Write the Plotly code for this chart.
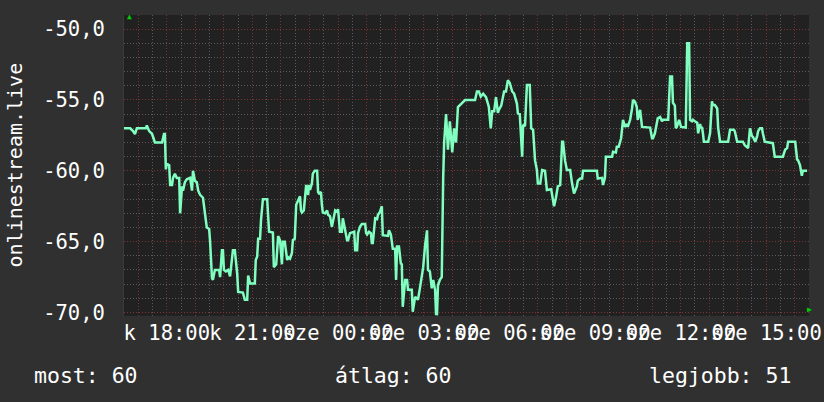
import pandas as pd
import plotly.graph_objects as go

# minutes after k 16:30, signal level (dB)
minutes = [
    0, 13, 19, 23, 27, 46, 48, 53, 59, 65, 80, 84, 86, 88, 90, 95, 97, 101, 103, 107,
    111, 116, 118, 122, 124, 128, 132, 139, 143, 145, 149, 153, 156, 160, 166, 170, 174, 179, 181, 185,
    187, 191, 200, 202, 206, 208, 210, 214, 219, 223, 227, 229, 233, 238, 240, 248, 250, 254, 259, 261,
    265, 275, 277, 280, 282, 286, 288, 292, 301, 303, 305, 313, 315, 320, 322, 324, 328, 332, 334, 338,
    343, 345, 349, 353, 355, 359, 362, 366, 370, 372, 374, 378, 383, 387, 389, 391, 395, 397, 401, 406,
    408, 410, 414, 416, 418, 423, 427, 429, 433, 437, 439, 444, 448, 450, 454, 458, 460, 465, 469, 471,
    475, 484, 486, 490, 492, 496, 500, 507, 509, 511, 515, 519, 521, 523, 526, 528, 532, 534, 538, 542,
    544, 555, 557, 561, 563, 565, 570, 572, 574, 578, 582, 584, 586, 591, 595, 597, 605, 607, 612, 618,
    622, 626, 629, 633, 637, 639, 643, 647, 650, 654, 656, 658, 660, 664, 668, 671, 673, 677, 681, 685,
    690, 694, 698, 702, 708, 717, 738, 742, 746, 750, 755, 761, 765, 767, 771, 774, 778, 782, 786, 788,
    793, 795, 799, 803, 807, 811, 816, 820, 826, 828, 832, 837, 839, 843, 847, 853, 856, 860, 864, 868,
    870, 875, 879, 885, 889, 898, 900, 904, 908, 910, 912, 917, 921, 923, 927, 931, 938, 942, 946, 952,
    954, 959, 963, 965, 994, 996, 1005, 1007, 1011, 1013, 1026, 1028, 1034, 1036, 1040, 1045, 1047, 1049, 1053, 1057,
    1059, 1064, 1068, 1070, 1074, 1078, 1080, 1085, 1089, 1106, 1110, 1112, 1116, 1120, 1122, 1127, 1131, 1133, 1144, 1148,
    1152, 1154, 1158, 1160, 1162, 1167, 1171, 1181, 1184, 1188, 1190, 1194, 1196, 1200, 1205, 1207, 1209, 1211, 1213, 1215,
    1217, 1219, 1228, 1232, 1236, 1238, 1242, 1247, 1249, 1253, 1270, 1274, 1282, 1284, 1289, 1301, 1305, 1310, 1312, 1316,
    1320, 1322, 1327, 1331, 1333, 1337, 1341, 1343, 1347, 1364, 1368, 1385, 1390, 1394, 1396, 1411, 1415, 1417, 1421, 1425,
    1427, 1436,
]
level = [
    -57.0, -57.0, -57.2, -57.4, -57.0, -57.0, -56.8, -57.2, -57.4, -58.0, -58.0, -57.4, -57.4, -59.9, -59.5, -59.6, -61.0, -61.0, -60.5, -60.2,
    -60.5, -60.5, -63.0, -61.1, -61.4, -60.8, -60.6, -60.5, -61.4, -60.0, -60.7, -60.8, -61.4, -61.7, -61.9, -63.2, -64.0, -64.1, -65.0, -67.6,
    -67.7, -67.0, -67.0, -67.5, -65.6, -65.6, -67.0, -67.1, -67.0, -67.45, -66.1, -65.6, -65.6, -67.3, -68.55, -68.55, -68.6, -69.1, -69.1, -67.4,
    -67.95, -67.95, -66.3, -66.05, -64.8, -64.8, -63.5, -62.0, -62.0, -63.2, -64.3, -64.35, -66.8, -66.6, -65.6, -64.6, -64.9, -66.6, -65.0, -65.0,
    -66.3, -66.1, -66.2, -65.8, -64.9, -64.8, -62.4, -62.1, -61.8, -62.8, -62.95, -62.8, -61.0, -61.7, -61.0, -61.35, -60.9, -60.2, -60.0, -60.0,
    -61.5, -61.6, -61.5, -62.4, -62.95, -63.0, -62.8, -63.1, -63.2, -63.95, -63.6, -62.8, -62.9, -62.7, -64.3, -64.3, -63.35, -64.3, -64.9, -64.9,
    -64.4, -64.3, -65.6, -65.6, -64.4, -63.95, -63.75, -63.75, -64.4, -64.5, -64.3, -64.4, -65.1, -65.1, -63.75, -63.35, -63.4, -63.1, -62.9, -62.5,
    -64.55, -64.6, -64.2, -64.5, -65.0, -65.5, -65.5, -67.7, -65.35, -65.35, -66.55, -66.6, -69.6, -67.7, -67.7, -68.4, -68.4, -69.95, -68.9, -69.1,
    -68.3, -67.4, -66.8, -65.25, -64.2, -67.0, -67.1, -68.3, -67.7, -68.4, -70.1, -70.1, -68.1, -67.7, -67.5, -60.5, -58.0, -56.0, -58.5, -56.5,
    -58.7, -57.0, -58.0, -55.5, -55.3, -55.0, -55.0, -54.4, -54.4, -54.75, -54.55, -54.8, -55.25, -55.5, -57.0, -55.8, -55.8, -54.8, -55.9, -55.7,
    -55.4, -55.0, -54.4, -54.4, -53.6, -53.8, -54.4, -54.55, -55.25, -55.95, -56.0, -59.0, -56.75, -56.85, -53.95, -53.95, -57.0, -57.1, -59.25, -59.95,
    -60.9, -60.9, -59.95, -60.0, -61.35, -61.3, -61.8, -62.5, -61.9, -61.35, -61.1, -61.0, -57.95, -57.95, -59.25, -59.95, -59.95, -60.9, -61.6, -61.1,
    -60.7, -60.55, -60.55, -60.0, -60.0, -60.55, -60.5, -61.0, -60.5, -59.0, -59.0, -58.65, -58.7, -58.3, -58.3, -57.7, -56.9, -56.4, -56.9, -56.7,
    -56.9, -56.4, -55.6, -55.0, -55.1, -55.5, -56.4, -55.7, -56.9, -56.95, -57.7, -57.7, -57.35, -56.5, -56.3, -56.2, -56.5, -56.4, -56.4, -53.35,
    -53.35, -55.2, -55.4, -57.0, -56.9, -56.4, -56.9, -56.95, -51.0, -51.0, -56.4, -56.5, -56.4, -56.5, -56.6, -57.35, -56.9, -56.7, -57.0, -56.9,
    -57.35, -57.95, -57.95, -57.35, -55.1, -55.35, -55.35, -55.6, -56.95, -57.95, -57.95, -57.1, -57.1, -57.2, -57.95, -57.95, -58.2, -58.4, -58.4, -57.0,
    -57.55, -57.6, -57.95, -57.55, -57.2, -57.0, -57.0, -57.35, -57.95, -58.05, -59.0, -59.0, -58.5, -58.4, -57.95, -57.95, -59.2, -59.25, -59.6, -60.35,
    -60.0, -60.0,
]

y_ticks = [-70, -65, -60, -55, -50]
y_labels = ["-70,0", "-65,0", "-60,0", "-55,0", "-50,0"]
day_names = {1: "k", 2: "sze"}   # kedd, szerda
summary = [("most", "60"), ("átlag", "60"), ("legjobb", "51")]
title = "onlinestream.live"

start = pd.Timestamp("2024-01-02 16:30")
end = start + pd.Timedelta(hours=24)
times = start + pd.to_timedelta(minutes, unit="m")

hours = pd.date_range(start + pd.Timedelta(minutes=30), end, freq="h")
hour_text = [f"{day_names[h.dayofweek]} {h:%H:%M}" if h.hour % 3 == 0 else "" for h in hours]

FONT = "DejaVu Sans Mono"
BG = "#303030"
PLOT_BG = "#212121"
MAJOR = "#7a3434"
MINOR = "#5a5a5a"
DOTS = "1px,2px"

fig = go.Figure(go.Scatter(
    x=times, y=level, mode="lines",
    line=dict(color="#80ffc0", width=2.5),
    hoverinfo="skip",
))

fig.update_layout(
    width=824, height=402,
    margin=dict(l=124, r=15, t=15, b=86),
    paper_bgcolor=BG, plot_bgcolor=PLOT_BG,
    showlegend=False,
    font=dict(family=FONT, size=20, color="white"),
    xaxis=dict(
        range=[start, end], tickvals=hours, ticktext=hour_text,
        showgrid=True, gridcolor=MAJOR, griddash=DOTS, gridwidth=1,
        minor=dict(dtick=30 * 60 * 1000, tick0=start, showgrid=True,
                   gridcolor=MINOR, griddash=DOTS, gridwidth=1),
        zeroline=False, showline=False, ticks="", ticklabelstandoff=2,
        tickangle=0, automargin=False,
        tickfont=dict(family=FONT, size=20.5, color="white"),
    ),
    yaxis=dict(
        range=[-70.25, -49.0], tickvals=y_ticks, ticktext=y_labels,
        showgrid=True, gridcolor=MAJOR, griddash=DOTS, gridwidth=1,
        minor=dict(dtick=1, tick0=-70, showgrid=True,
                   gridcolor=MINOR, griddash=DOTS, gridwidth=1),
        zeroline=False, showline=True, linecolor="#3a3a3a", linewidth=1,
        ticks="", ticklabelstandoff=14, automargin=False,
        tickfont=dict(family=FONT, size=20.5, color="white"),
    ),
)

fig.add_annotation(
    text=title, xref="paper", yref="paper", x=0, y=0.5,
    xanchor="center", yanchor="middle", xshift=-110, textangle=-90,
    showarrow=False, font=dict(family=FONT, size=20, color="white"),
)

left_edges = [(0, "left", -92), (0, "left", 209), (1, "right", -16)]
for (name, val), (px, anchor, shift) in zip(summary, left_edges):
    fig.add_annotation(
        text=f"{name}: {val}", xref="paper", yref="paper", x=px, y=0,
        xanchor=anchor, yanchor="middle", xshift=shift, yshift=-59,
        showarrow=False, font=dict(family=FONT, size=21.5, color="white"),
    )

# rrdtool style axis arrows
fig.add_annotation(text="▲", xref="paper", yref="paper", x=0, y=1, xshift=1, yshift=5,
                   showarrow=False, font=dict(size=8, color="#00cc00"))
fig.add_annotation(text="▶", xref="paper", yref="paper", x=1, y=0, xshift=5, yshift=0,
                   showarrow=False, font=dict(size=8, color="#00cc00"))

fig.write_html(
    "out.html",
    config={"displayModeBar": False},
    post_script="document.body.style.margin='0';document.body.style.background='%s';" % BG,
)
